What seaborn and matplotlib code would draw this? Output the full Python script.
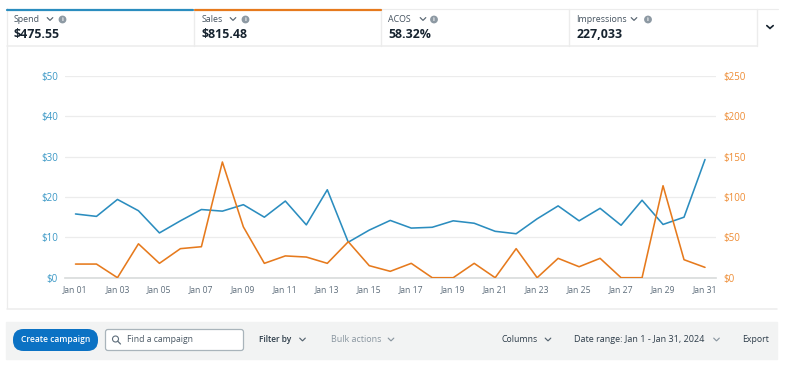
import matplotlib
matplotlib.use("Agg")
import matplotlib.pyplot as plt
from matplotlib.patches import Rectangle, FancyBboxPatch, Circle
from matplotlib.lines import Line2D
import pandas as pd
import seaborn as sns

# Values
days = ["Jan 01", "Jan 02", "Jan 03", "Jan 04", "Jan 05", "Jan 06", "Jan 07", "Jan 08",
        "Jan 09", "Jan 10", "Jan 11", "Jan 12", "Jan 13", "Jan 14", "Jan 15", "Jan 16",
        "Jan 17", "Jan 18", "Jan 19", "Jan 20", "Jan 21", "Jan 22", "Jan 23", "Jan 24",
        "Jan 25", "Jan 26", "Jan 27", "Jan 28", "Jan 29", "Jan 30", "Jan 31"]
spend = [15.8, 15.2, 19.4, 16.6, 11.1, 14.1, 16.9, 16.5, 18.1, 15.0, 19.0, 13.1, 21.8, 8.8, 11.8, 14.2,
         12.3, 12.5, 14.1, 13.5, 11.5, 10.9, 14.6, 17.8, 14.1, 17.2, 13.0, 19.2, 13.2, 15.0, 29.3]
sales = [16.9, 16.9, 0, 42.0, 17.8, 36.0, 38.4, 143.4, 63.0, 17.8, 27.0, 25.6, 17.8, 44.6, 14.9, 7.9,
         17.8, 0, 0, 17.8, 0, 36.0, 0, 24.0, 13.6, 24.0, 0, 0, 114.0, 22.3, 12.8]
spend_ticks = [0, 10, 20, 30, 40, 50]
sales_ticks = [0, 50, 100, 150, 200, 250]
tile_names = ["Spend", "Sales", "ACOS", "Impressions"]
tile_values = ["$475.55", "$815.48", "58.32%", "227,033"]

W, H = 785, 367
BLUE = "#2b8dbf"
ORANGE = "#e67a1d"
DARK = "#16232f"
GREY = "#5f6e7c"
EDGE = "#ececec"

sns.set_theme(style="white")
plt.rcParams["font.family"] = ["Open Sans", "DejaVu Sans"]

fig = plt.figure(figsize=(W / 100, H / 100), dpi=100, facecolor="white")

df = pd.DataFrame({"day": days, "spend": spend, "sales": sales})

ax = fig.add_axes([65 / W, 1 - 277.7 / H, 650.5 / W, 201.7 / H], facecolor="none")
sns.lineplot(data=df, x="day", y="spend", color=BLUE, linewidth=1.15, sort=False, ax=ax, zorder=3)
ax2 = ax.twinx()
sns.lineplot(data=df, x="day", y="sales", color=ORANGE, linewidth=1.15, sort=False, ax=ax2, zorder=4)

ax.set_xlim(-0.5, 30.5)
ax.set_ylim(0, 50)
ax2.set_ylim(0, 250)
ax.set_xticks(range(0, 31, 2))
ax.set_xticklabels(days[::2], fontsize=6.2, color=GREY)
ax.set_yticks(spend_ticks)
ax.set_yticklabels([f"${v}" for v in spend_ticks], fontsize=7, color="#3b98c6")
ax2.set_yticks(sales_ticks)
ax2.set_yticklabels([f"${v}" for v in sales_ticks], fontsize=7, color="#ee8c34")
ax.tick_params(axis="x", length=0, pad=5.2)
ax.tick_params(axis="y", length=0, pad=5)
ax2.tick_params(axis="y", length=0, pad=5.5)
ax.set_xlabel("")
ax.set_ylabel("")
ax2.set_ylabel("")
ax.grid(axis="y", color="#ececec", linewidth=0.9)
ax.set_axisbelow(True)
for a in (ax, ax2):
    for s in a.spines.values():
        s.set_visible(False)
ax.spines["bottom"].set_visible(True)
ax.spines["bottom"].set_color("#d8dbdb")
ax.spines["bottom"].set_linewidth(1.2)


# Page furniture around the chart, placed in pixels
def hline(x0, x1, y, color=EDGE, lw=0.9):
    fig.add_artist(Line2D([x0 / W, x1 / W], [1 - y / H, 1 - y / H], color=color, linewidth=lw))


def vline(x, y0, y1, color=EDGE, lw=0.9):
    fig.add_artist(Line2D([x / W, x / W], [1 - y0 / H, 1 - y1 / H], color=color, linewidth=lw))


def label(x, y, s, size, color=DARK, weight="normal", ha="left"):
    fig.text(x / W, 1 - y / H, s, fontsize=size, color=color, fontweight=weight, ha=ha, va="center")


def chevron(x, y, color=GREY, w=2.8, h=2.8, lw=0.85):
    fig.add_artist(Line2D([(x - w) / W, x / W, (x + w) / W],
                          [1 - (y - h / 2) / H, 1 - (y + h / 2) / H, 1 - (y - h / 2) / H],
                          color=color, linewidth=lw, solid_joinstyle="miter"))


# panel outline
vline(6.5, 8, 308)
hline(6.5, 777, 308.5, lw=1.1)
hline(381, 778, 8.5, lw=0.8)

# metric tiles
tile_x = [6.5, 194, 381, 569]
tile_right = [194, 381, 569, 757]
chev_x = [50, 233, 423, 634]
info_x = [62.5, 245.5, 434, 648]
for i in range(4):
    label(tile_x[i] + 7.5, 19.5, tile_names[i], 6.4, color="#44525f")
    label(tile_x[i] + 7.5, 34, tile_values[i], 8.9, weight="bold")
    chevron(chev_x[i], 19, color="#55636f")
    fig.add_artist(Circle((info_x[i], H - 19.5), 3.2, color="#8d99a3", transform=None))
    fig.text(info_x[i] / W, 1 - 19.6 / H, "i", fontsize=4.2, color="white", fontweight="bold",
             ha="center", va="center")
    vline(tile_right[i], 9, 46, lw=1.0)
hline(6.5, 757, 46, lw=1.1)
hline(6.5, 193, 9.5, color=BLUE, lw=1.6)
hline(195, 381, 9.5, color=ORANGE, lw=1.6)
chevron(770, 27, color=DARK, w=3.2, h=2.8, lw=1.2)

# toolbar under the chart
fig.add_artist(Rectangle((6 / W, 1 - 359 / H), 771 / W, 37 / H, color="#f2f3f3",
                         transform=fig.transFigure, zorder=0))
fig.add_artist(FancyBboxPatch((13, H - 351), 85, 22, boxstyle="round,pad=0,rounding_size=10.5",
                              facecolor="#0b72c4", edgecolor="none", transform=None))
label(55.5, 340, "Create campaign", 6.1, color="white", weight="semibold", ha="center")
fig.add_artist(FancyBboxPatch((105.5, H - 350.5), 138, 21, boxstyle="round,pad=0,rounding_size=2.5",
                              facecolor="white", edgecolor="#a9b4bb", linewidth=0.9, transform=None))
fig.add_artist(Circle((115.5, H - 339), 3, facecolor="none", edgecolor="#5f6e7c", linewidth=0.8,
                      transform=None))
fig.add_artist(Line2D([117.7 / W, 120.5 / W], [1 - 341.2 / H, 1 - 344 / H], color="#5f6e7c", linewidth=0.9))
label(127, 340, "Find a campaign", 6.25, color="#4a5864")
label(259, 340, "Filter by", 6.0, color="#2d3c49", weight="semibold")
chevron(302.5, 339.5, color="#55636f")
label(331, 340, "Bulk actions", 6.4, color="#8a96a0")
chevron(391, 339.5, color="#8a96a0")
label(501.5, 340, "Columns", 6.3, color="#2d3c49")
chevron(548, 339.5, color="#55636f")
label(573.5, 340, "Date range: Jan 1 - Jan 31, 2024", 6.5, color="#2d3c49")
chevron(716.5, 339.5, color="#8a96a0")
label(742.5, 340, "Export", 6.3, color="#2d3c49")

fig.savefig("out.png", dpi=100)
